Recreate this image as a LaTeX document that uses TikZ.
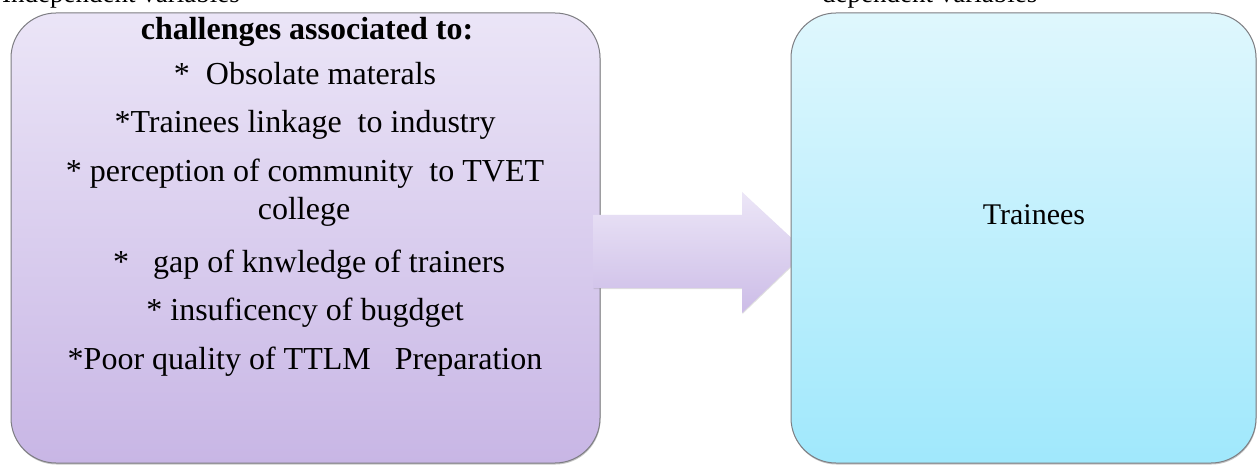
\documentclass[tikz,border=0pt]{standalone}
\usepackage{fontspec}
\setmainfont{Liberation Serif}
\usetikzlibrary{shadows}
\definecolor{lavTop}{RGB}{235,229,247}
\definecolor{lavBot}{RGB}{200,182,229}
\definecolor{arTop}{RGB}{236,230,247}
\definecolor{arBot}{RGB}{204,188,231}
\definecolor{cyTop}{RGB}{223,247,253}
\definecolor{cyBot}{RGB}{160,232,252}
\definecolor{edge}{RGB}{125,125,130}
\tikzset{
  panel/.style={draw=edge, line width=1pt, rounded corners=45pt,
    drop shadow={shadow xshift=0.5pt, shadow yshift=-1.5pt, opacity=0.45},
    minimum height=450pt, inner sep=0pt},
  body/.style={anchor=base, inner sep=0pt, font=\fontsize{32}{38}\selectfont},
  caption/.style={anchor=base west, inner sep=0pt, font=\fontsize{27}{32}\selectfont}
}
\begin{document}
\begin{tikzpicture}[x=1pt,y=1pt]
\clip (0,0) rectangle (1258,464);
\fill[white] (0,0) rectangle (1258,464);
% captions (mostly cut at the top edge)
\node[caption] (indep) at (2,461) {Independent variables};
\node[caption] (dep) at (822,461) {dependent variables};
% left box
\node[panel, minimum width=589pt, top color=lavTop, bottom color=lavBot] (left) at (305.5,226) {};
% block arrow
\coordinate (a1) at (593,249);
\coordinate (a2) at (742,249);
\coordinate (a3) at (742,272);
\coordinate (tip) at (806,212.5);
\coordinate (a5) at (742,151);
\coordinate (a6) at (742,176);
\coordinate (a7) at (593,176);
\path[top color=arTop, bottom color=arBot,
  drop shadow={shadow xshift=0.5pt, shadow yshift=-1pt, opacity=0.25}]
  (a1) -- (a2) -- (a3) -- (tip) -- (a5) -- (a6) -- (a7) -- cycle;
% right box
\node[panel, minimum width=465pt, top color=cyTop, bottom color=cyBot] (right) at (1023.5,226) {};
% left texts
\node[body] (h) at (307,424) {\textbf{challenges associated to:}};
\node[body] (t1) at (305,379) {*~~Obsolate materals};
\node[body] (t2) at (305,331) {*Trainees linkage~~to industry};
\node[body] (t3) at (305,282) {* perception of community~~to TVET};
\node[body] (t3b) at (304,244) {college};
\node[body] (t4) at (309,192) {*~~~gap of knwledge of trainers};
\node[body] (t5) at (305,144) {* insuficency of bugdget};
\node[body] (t6) at (305,95) {*Poor quality of TTLM~~~Preparation};
% right text
\node[body, font=\fontsize{30}{36}\selectfont] (tr) at (1034,239) {Trainees};
\end{tikzpicture}
\end{document}
